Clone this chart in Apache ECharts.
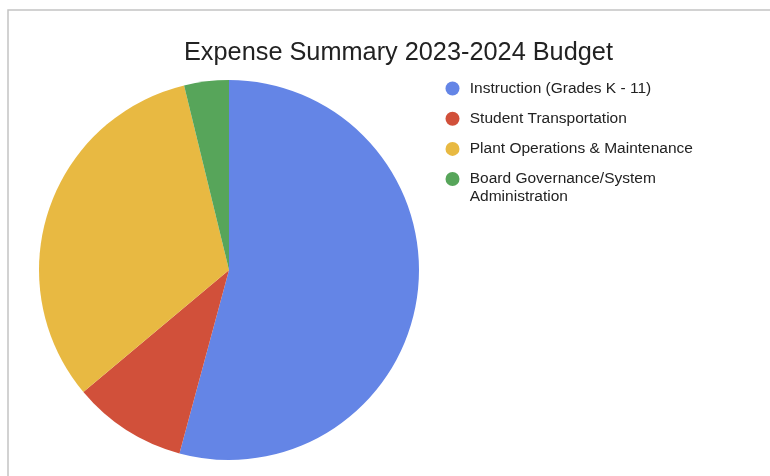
<!DOCTYPE html>
<html>
<head>
<meta charset="utf-8">
<script src="https://cdn.jsdelivr.net/npm/echarts@6/dist/echarts.min.js"></script>
<style>
  html, body { margin: 0; padding: 0; background: #fff; }
  #chart { width: 770px; height: 476px; }
</style>
</head>
<body>
<div id="chart"></div>
<script>
// Budget categories and their share of total expenses (%)
const categories = [
  'Instruction (Grades K - 11)',
  'Student Transportation',
  'Plant Operations & Maintenance',
  'Board Governance/System Administration'
];
const values = [54.2, 9.7, 32.3, 3.8];
const colors = ['#6485E6', '#D1503A', '#E8B942', '#57A55A'];
const titleText = 'Expense Summary 2023-2024 Budget';

const FONT = '"Liberation Sans", Arial, sans-serif';
const LINE = 17.5;

const chart = echarts.init(document.getElementById('chart'), null, { renderer: 'canvas' });

const legendText = {
  color: '#222',
  fontSize: 15.5,
  fontFamily: FONT,
  lineHeight: LINE,
  width: 235,
  overflow: 'break'
};

const legendCommon = {
  orient: 'vertical',
  left: 445.5,
  padding: 0,
  icon: 'circle',
  itemWidth: 24.5,
  itemHeight: 14,
  selectedMode: false
};

chart.setOption({
  backgroundColor: '#fff',
  animation: false,
  color: colors,
  title: {
    text: titleText,
    left: 184,
    top: 41,
    padding: 0,
    textStyle: { color: '#222', fontSize: 25.3, fontWeight: 'normal', fontFamily: FONT }
  },
  legend: [
    Object.assign({}, legendCommon, {
      data: categories.slice(0, 3),
      top: 79.75,
      itemGap: 12.7,
      textStyle: legendText
    }),
    // wrapped two-line entry: an empty spacer line keeps the first line level with the marker
    Object.assign({}, legendCommon, {
      data: [categories[3]],
      top: 152.75,
      formatter: name => '{sp| }\n' + name,
      textStyle: Object.assign({}, legendText, {
        rich: { sp: { fontSize: 15.5, lineHeight: LINE } }
      })
    })
  ],
  graphic: [
    {
      type: 'rect',
      shape: { x: 8, y: 10, width: 800, height: 500 },
      style: { fill: 'none', stroke: '#c4c4c4', lineWidth: 1.5 },
      silent: true,
      z: -1
    }
  ],
  series: [
    {
      type: 'pie',
      center: [229, 270],
      radius: [0, 190],
      startAngle: 90,
      clockwise: true,
      label: { show: false },
      labelLine: { show: false },
      itemStyle: { borderWidth: 0 },
      emphasis: { disabled: true },
      data: categories.map((name, i) => ({ name, value: values[i] }))
    }
  ]
});
</script>
</body>
</html>
